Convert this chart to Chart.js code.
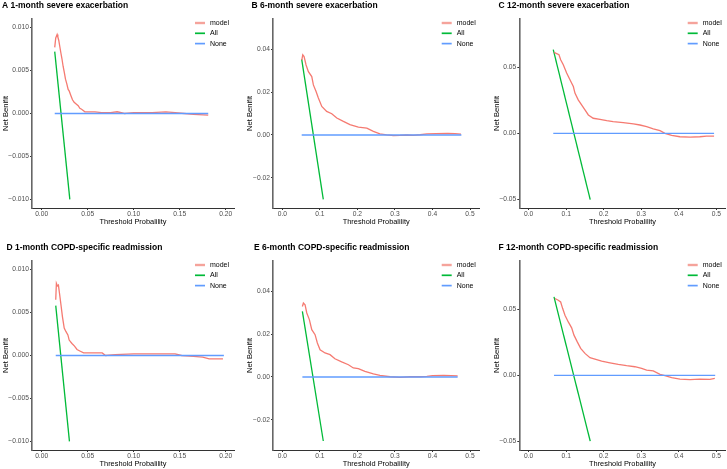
<!DOCTYPE html>
<html>
<head>
<meta charset="utf-8">
<script src="https://cdn.jsdelivr.net/npm/chart.js@4.4.1/dist/chart.umd.min.js"></script>
<style>
  body { margin: 0; width: 727px; height: 469px; overflow: hidden; background: #fff; position: relative; }
  canvas { position: absolute; }
</style>
</head>
<body>
<canvas id="pA" width="241" height="234" style="left:0px;top:0px"></canvas>
<canvas id="pB" width="241" height="234" style="left:241px;top:0px"></canvas>
<canvas id="pC" width="245" height="234" style="left:482px;top:0px"></canvas>
<canvas id="pD" width="241" height="234" style="left:0px;top:242px"></canvas>
<canvas id="pE" width="241" height="234" style="left:241px;top:242px"></canvas>
<canvas id="pF" width="245" height="234" style="left:482px;top:242px"></canvas>
<script>
// series names
const seriesNames = ["model", "All", "None"];

// tick values + labels
const xTicksShort = [0, 0.05, 0.1, 0.15, 0.2];
const xLabelsShort = ["0.00", "0.05", "0.10", "0.15", "0.20"];
const xTicksLong = [0, 0.1, 0.2, 0.3, 0.4, 0.5];
const xLabelsLong = ["0.0", "0.1", "0.2", "0.3", "0.4", "0.5"];
const yTicks1m = [-0.01, -0.005, 0, 0.005, 0.01];
const yLabels1m = ["\u22120.010", "\u22120.005", "0.000", "0.005", "0.010"];
const yTicks6m = [-0.02, 0, 0.02, 0.04];
const yLabels6m = ["\u22120.02", "0.00", "0.02", "0.04"];
const yTicks12m = [-0.05, 0, 0.05];
const yLabels12m = ["\u22120.05", "0.00", "0.05"];

// A 1-month severe exacerbation  [threshold, net benefit]
const modelA = [[0.0142,0.0077],[0.0153,0.0088],[0.0168,0.0092],[0.0176,0.0089],[0.0186,0.0085],[0.0197,0.0078],
  [0.0208,0.0071],[0.0220,0.0064],[0.0233,0.0055],[0.0246,0.0048],[0.0259,0.0040],[0.0272,0.0035],[0.0288,0.0028],
  [0.0300,0.0026],[0.0317,0.0021],[0.0335,0.0016],[0.0353,0.0013],[0.0375,0.0011],[0.0397,0.0009],[0.0415,0.0006],
  [0.0434,0.0005],[0.047,0.0002],[0.058,0.0002],[0.065,0.0001],[0.075,0.0001],[0.082,0.0002],[0.09,0.0000],
  [0.10,0.0001],[0.12,0.0001],[0.135,0.0002],[0.145,0.0001],[0.155,0.0000],[0.165,-0.0001],[0.181,-0.0002]];
const allA = [[0.0142,0.0072],[0.0306,-0.0100]];
const noneA = [[0.0142,0],[0.181,0]];

// B 6-month severe exacerbation
const modelB = [[0.0517,0.0349],[0.0543,0.0373],[0.0578,0.0365],[0.0631,0.0326],[0.0693,0.0295],[0.0783,0.0272],
  [0.0826,0.0233],[0.0898,0.0202],[0.0959,0.0172],[0.105,0.0133],[0.118,0.0110],[0.1316,0.0099],[0.145,0.0079],
  [0.1625,0.0063],[0.180,0.0048],[0.2025,0.0037],[0.225,0.0032],[0.2424,0.0017],[0.260,0.0005],[0.278,0.0000],
  [0.296,-0.0003],[0.3135,-0.0002],[0.331,0.0000],[0.349,-0.0002],[0.367,0.0001],[0.385,0.0005],[0.41,0.0006],
  [0.44,0.0007],[0.46,0.0006],[0.476,0.0004]];
const allB = [[0.0515,0.0352],[0.109,-0.0300]];
const noneB = [[0.0515,0],[0.477,0]];

// C 12-month severe exacerbation
const modelC = [[0.0674,0.0612],[0.0746,0.0603],[0.0807,0.0595],[0.0852,0.0557],[0.0922,0.0519],[0.1012,0.0456],
  [0.110,0.0405],[0.119,0.0354],[0.1233,0.0304],[0.132,0.0253],[0.141,0.0215],[0.150,0.0177],[0.159,0.0139],
  [0.172,0.0114],[0.190,0.0106],[0.208,0.0096],[0.225,0.0088],[0.252,0.0081],[0.279,0.0071],[0.2965,0.0063],
  [0.3143,0.0050],[0.332,0.0033],[0.350,0.0020],[0.363,0.0000],[0.381,-0.0015],[0.403,-0.0026],[0.430,-0.0028],
  [0.456,-0.0026],[0.474,-0.0021],[0.494,-0.0021]];
const allC = [[0.0655,0.0633],[0.164,-0.0502]];
const noneC = [[0.0655,0],[0.494,0]];

// D 1-month COPD-specific readmission
const modelD = [[0.0153,0.0065],[0.0160,0.0084],[0.0171,0.0081],[0.0182,0.0082],[0.0193,0.0073],[0.0212,0.0057],
  [0.0226,0.0045],[0.0245,0.0032],[0.0263,0.0028],[0.0285,0.0024],[0.0299,0.0018],[0.0329,0.0014],[0.0357,0.0011],
  [0.0384,0.0007],[0.042,0.0005],[0.0456,0.0003],[0.0511,0.0003],[0.0584,0.0003],[0.0658,0.0003],[0.0694,0.0000],
  [0.08,0.0001],[0.10,0.0002],[0.12,0.0002],[0.145,0.0002],[0.152,0.0000],[0.165,-0.0001],[0.175,-0.0002],
  [0.182,-0.0004],[0.197,-0.0004]];
const allD = [[0.0153,0.0058],[0.0302,-0.0100]];
const noneD = [[0.0153,0],[0.198,0]];

// E 6-month COPD-specific readmission
const modelE = [[0.0533,0.0328],[0.056,0.0344],[0.0605,0.0336],[0.065,0.0298],[0.0719,0.0267],[0.0783,0.0220],
  [0.0871,0.0197],[0.0932,0.0158],[0.1004,0.0127],[0.1137,0.0112],[0.127,0.0104],[0.140,0.0085],[0.158,0.0070],
  [0.176,0.0057],[0.189,0.0042],[0.2025,0.0039],[0.220,0.0026],[0.2425,0.0014],[0.260,0.0007],[0.287,0.0001],
  [0.3135,-0.0002],[0.340,0.0001],[0.367,0.0001],[0.385,0.0003],[0.40,0.0006],[0.43,0.0007],[0.45,0.0006],
  [0.467,0.0005]];
const allE = [[0.0533,0.0305],[0.109,-0.0298]];
const noneE = [[0.0533,0],[0.467,0]];

// F 12-month COPD-specific readmission
const modelF = [[0.070,0.0581],[0.0789,0.0568],[0.0852,0.0555],[0.0906,0.0505],[0.0967,0.0455],[0.1055,0.0404],
  [0.1145,0.0359],[0.1207,0.0304],[0.1295,0.0253],[0.1385,0.0204],[0.150,0.0166],[0.1633,0.0133],[0.1766,0.0123],
  [0.1945,0.0108],[0.2166,0.0095],[0.2387,0.0083],[0.261,0.0073],[0.283,0.0065],[0.301,0.0053],[0.3143,0.0040],
  [0.332,0.0033],[0.350,0.0008],[0.363,-0.0003],[0.381,-0.0018],[0.403,-0.0028],[0.430,-0.0033],[0.456,-0.0028],
  [0.483,-0.0030],[0.496,-0.0023]];
const allF = [[0.0674,0.0593],[0.164,-0.0498]];
const noneF = [[0.0674,0],[0.497,0]];

const lineColors = ["rgba(244,108,98,0.9)", "#00BA38", "#619CFF"];
const lineWidths = [1.3, 1.3, 1.4];
const keyColors = ["#F5A39B", "#00BA38", "#619CFF"];
const FONT = "'Liberation Sans', Arial, sans-serif";

const toPoints = (arr) => arr.map(d => ({ x: d[0], y: d[1] }));

// title + inside legend, ggplot style
const decor = {
  id: "decor",
  afterDraw(chart, args, o) {
    const ctx = chart.ctx;
    ctx.save();
    ctx.fillStyle = "#000";
    ctx.textBaseline = "middle";
    ctx.textAlign = "left";
    ctx.font = "bold 8.5px " + FONT;
    ctx.fillText(o.title, o.titleX, 6);
    ctx.font = "7px " + FONT;
    seriesNames.forEach((name, i) => {
      const y = 23 + i * 10.3;
      ctx.strokeStyle = keyColors[i];
      ctx.lineWidth = i === 0 ? 2.4 : 1.7;
      ctx.beginPath();
      ctx.moveTo(o.keyX, y);
      ctx.lineTo(o.keyX + 10, y);
      ctx.stroke();
      ctx.fillStyle = "#000";
      ctx.fillText(name, o.keyX + 15, y);
    });
    ctx.restore();
  }
};

function makePanel(id, p) {
  const series = [p.model, p.all, p.none];
  return new Chart(document.getElementById(id), {
    type: "line",
    data: {
      datasets: series.map((s, i) => ({
        label: seriesNames[i],
        data: toPoints(s),
        borderColor: lineColors[i],
        borderWidth: lineWidths[i],
        pointRadius: 0,
        tension: 0,
        order: [1, 2, 0][i],
      })),
    },
    options: {
      responsive: false,
      animation: false,
      events: [],
      layout: { autoPadding: false, padding: { top: 19, right: p.padRight, left: 0, bottom: 0 } },
      plugins: {
        legend: { display: false },
        tooltip: { enabled: false },
        decor: { title: p.title, titleX: p.titleX, keyX: p.keyX },
      },
      scales: {
        x: {
          type: "linear",
          min: p.xMin,
          max: p.xMax,
          afterBuildTicks: (axis) => { axis.ticks = p.xTicks.map(v => ({ value: v })); },
          afterFit: (axis) => { axis.height = 26; },
          ticks: {
            autoSkip: false, maxRotation: 0, padding: 0,
            color: "#4D4D4D", font: { family: FONT, size: 6.7 },
            callback: (v, i) => p.xLabels[i],
          },
          grid: { drawOnChartArea: false, tickLength: 2, color: "#333" },
          border: { color: "#333", width: 1 },
          title: {
            display: true, text: "Threshold Probalility", color: "#000",
            font: { family: FONT, size: 7.4 }, padding: { top: 0, bottom: 7.9 },
          },
        },
        y: {
          min: p.yMin,
          max: p.yMax,
          afterBuildTicks: (axis) => { axis.ticks = p.yTicks.map(v => ({ value: v })); },
          afterFit: (axis) => { axis.width = p.yWidth; },
          ticks: {
            autoSkip: false, padding: 1,
            color: "#4D4D4D", font: { family: FONT, size: 6.7 },
            callback: (v, i) => p.yLabels[i],
          },
          grid: { drawOnChartArea: false, tickLength: 2, color: "#333" },
          border: { color: "#666", width: 1.6 },
          title: {
            display: true, text: "Net Benifit", color: "#000",
            font: { family: FONT, size: 7.6 }, padding: { top: p.yTitlePad, bottom: 0 },
          },
        },
      },
    },
    plugins: [decor],
  });
}

const short = { xMin: -0.0105, xMax: 0.209, xTicks: xTicksShort, xLabels: xLabelsShort };
const long = { xMin: -0.025, xMax: 0.525, xTicks: xTicksLong, xLabels: xLabelsLong };
const y1m = { yMin: -0.011, yMax: 0.011, yTicks: yTicks1m, yLabels: yLabels1m };
const y6m = { yMin: -0.034, yMax: 0.054, yTicks: yTicks6m, yLabels: yLabels6m };
const y12m = { yMin: -0.0565, yMax: 0.0865, yTicks: yTicks12m, yLabels: yLabels12m };

makePanel("pA", { ...short, ...y1m, model: modelA, all: allA, none: noneA,
  title: "A 1-month severe exacerbation", titleX: 2, keyX: 195, yWidth: 32, padRight: 7, yTitlePad: 1 });
makePanel("pB", { ...long, ...y6m, model: modelB, all: allB, none: noneB,
  title: "B 6-month severe exacerbation", titleX: 10.5, keyX: 200.7, yWidth: 32, padRight: 2.6, yTitlePad: 4 });
makePanel("pC", { ...long, ...y12m, model: modelC, all: allC, none: noneC,
  title: "C 12-month severe exacerbation", titleX: 16.5, keyX: 205.7, yWidth: 37.3, padRight: 1.3, yTitlePad: 10 });
makePanel("pD", { ...short, ...y1m, model: modelD, all: allD, none: noneD,
  title: "D 1-month COPD-specific readmission", titleX: 6.5, keyX: 195, yWidth: 32, padRight: 7, yTitlePad: 1 });
makePanel("pE", { ...long, ...y6m, model: modelE, all: allE, none: noneE,
  title: "E 6-month COPD-specific readmission", titleX: 13, keyX: 200.7, yWidth: 32, padRight: 2.6, yTitlePad: 4 });
makePanel("pF", { ...long, ...y12m, model: modelF, all: allF, none: noneF,
  title: "F 12-month COPD-specific readmission", titleX: 16.5, keyX: 205.7, yWidth: 37.3, padRight: 1.3, yTitlePad: 10 });
</script>
</body>
</html>
